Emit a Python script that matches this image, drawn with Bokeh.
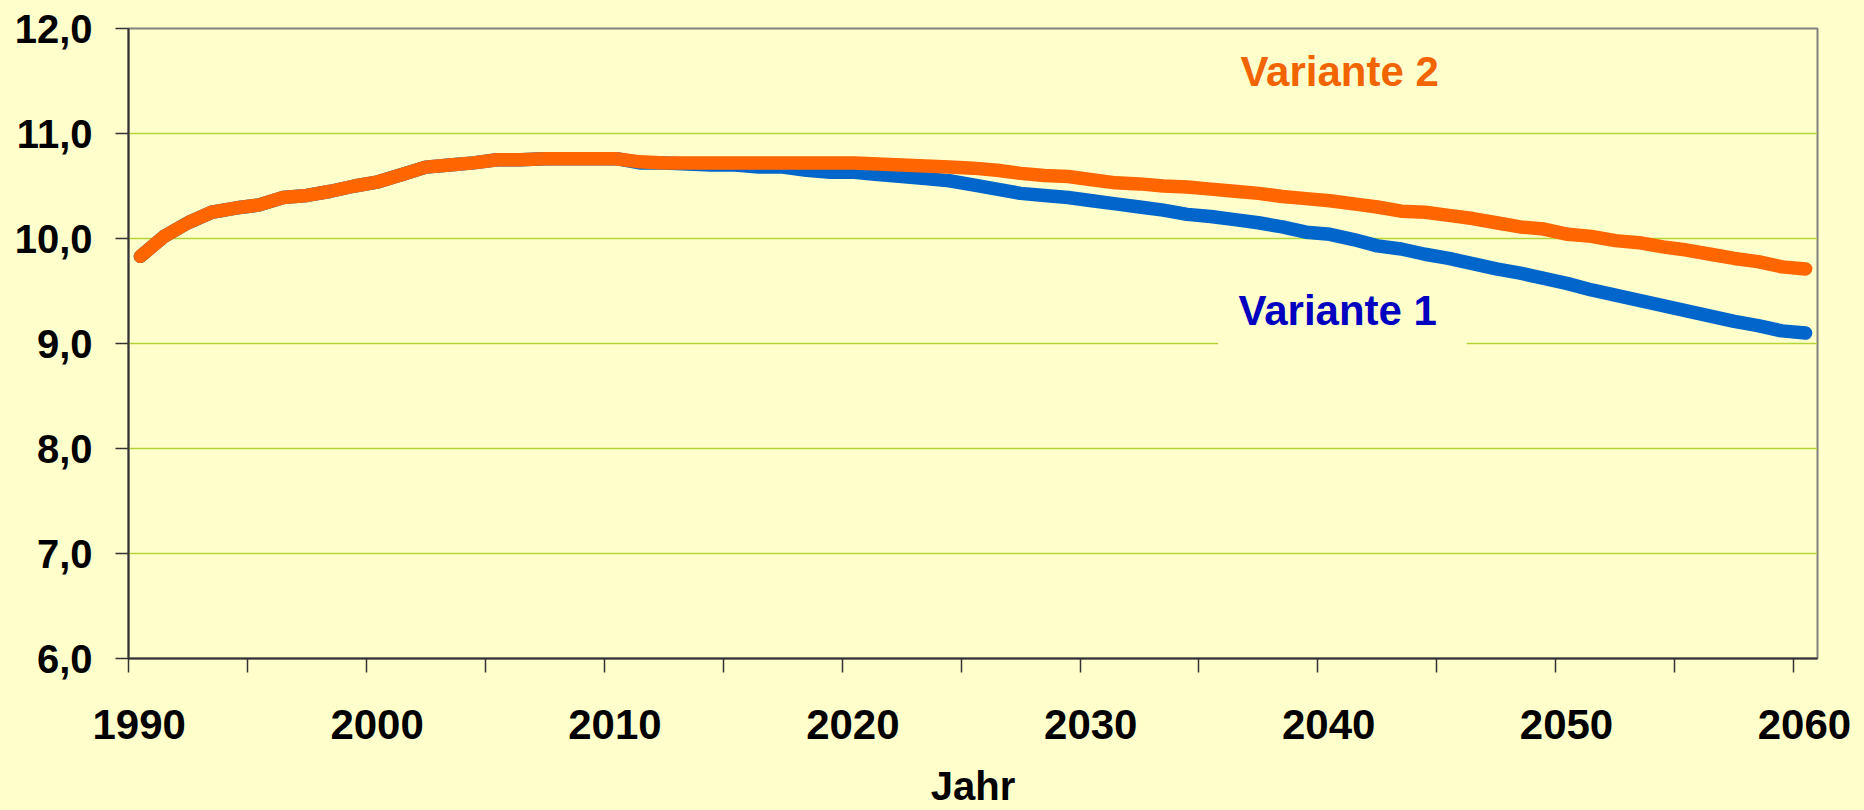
from bokeh.plotting import figure
from bokeh.models import (ColumnDataSource, Range1d, FixedTicker, Label, LinearAxis,
                          BoxAnnotation, GlobalInlineStyleSheet)
from bokeh.transform import dodge
from bokeh.embed import file_html
from bokeh.resources import INLINE

# ---- data -------------------------------------------------------------
years = list(range(1990, 2061))

variante_2 = [
    9.83, 10.02, 10.15, 10.25, 10.29, 10.32, 10.39, 10.41, 10.45, 10.50,   # 1990-1999
    10.54, 10.61, 10.68, 10.70, 10.72, 10.75, 10.75, 10.76, 10.76, 10.76,  # 2000-2009
    10.76, 10.73, 10.72, 10.72, 10.72, 10.72, 10.72, 10.72, 10.72, 10.72,  # 2010-2019
    10.72, 10.71, 10.70, 10.69, 10.68, 10.67, 10.65, 10.62, 10.60, 10.59,  # 2020-2029
    10.56, 10.53, 10.52, 10.50, 10.49, 10.47, 10.45, 10.43, 10.40, 10.38,  # 2030-2039
    10.36, 10.33, 10.30, 10.26, 10.25, 10.22, 10.19, 10.15, 10.11, 10.09,  # 2040-2049
    10.04, 10.02, 9.98, 9.96, 9.92, 9.89, 9.85, 9.81, 9.78, 9.73,          # 2050-2059
    9.71,                                                                  # 2060
]

variante_1 = [
    9.83, 10.02, 10.15, 10.25, 10.29, 10.32, 10.39, 10.41, 10.45, 10.50,   # 1990-1999
    10.54, 10.61, 10.68, 10.70, 10.72, 10.75, 10.75, 10.76, 10.76, 10.76,  # 2000-2009
    10.76, 10.72, 10.72, 10.71, 10.70, 10.70, 10.68, 10.68, 10.65, 10.63,  # 2010-2019
    10.63, 10.61, 10.59, 10.57, 10.55, 10.51, 10.47, 10.43, 10.41, 10.39,  # 2020-2029
    10.36, 10.33, 10.30, 10.27, 10.23, 10.21, 10.18, 10.15, 10.11, 10.06,  # 2030-2039
    10.04, 9.99, 9.93, 9.90, 9.85, 9.81, 9.76, 9.71, 9.67, 9.62,           # 2040-2049
    9.57, 9.51, 9.46, 9.41, 9.36, 9.31, 9.26, 9.21, 9.17, 9.12,            # 2050-2059
    9.10,                                                                  # 2060
]

x_ticks = [1990, 2000, 2010, 2020, 2030, 2040, 2050, 2060]
x_tick_labels = ["1990", "2000", "2010", "2020", "2030", "2040", "2050", "2060"]
x_minor_ticks = [1995, 2005, 2015, 2025, 2035, 2045, 2055]
y_ticks = [6, 7, 8, 9, 10, 11, 12]
y_tick_labels = ["6,0", "7,0", "8,0", "9,0", "10,0", "11,0", "12,0"]

series_names = ["Variante 1", "Variante 2"]
series_colors = ["#0066cc", "#ff6600"]
label_colors = ["#0000c0", "#f26400"]
x_title = "Jahr"

# ---- figure -----------------------------------------------------------
BG = "#ffffcc"
FONT = "Liberation Sans"
LABEL_SHIFT = 0.45  # tick labels of the original sit a little right of their ticks

src = ColumnDataSource(dict(year=years, v1=variante_1, v2=variante_2))

p = figure(
    width=1864, height=810,
    x_range=Range1d(1990, 2061), y_range=Range1d(6, 12),
    output_backend="svg", toolbar_location=None,
    min_border_left=128, min_border_right=47,
    min_border_top=28, min_border_bottom=151,
)
p.stylesheets = [GlobalInlineStyleSheet(css="html, body { background-color: #ffffcc; }")]

p.background_fill_color = BG
p.border_fill_color = BG
p.outline_line_color = "#808080"
p.outline_line_width = 2

# grid
p.xgrid.grid_line_color = None
p.ygrid.grid_line_color = "#b4d43a"
p.ygrid.grid_line_width = 1.5

# y axis
p.yaxis.ticker = FixedTicker(ticks=y_ticks)
p.yaxis.major_label_overrides = {t: l for t, l in zip(y_ticks, y_tick_labels)}
p.yaxis.major_label_text_font = FONT
p.yaxis.major_label_text_font_style = "bold"
p.yaxis.major_label_text_font_size = "40px"
p.yaxis.major_label_text_color = "black"
p.yaxis.major_label_standoff = 23
p.yaxis.major_tick_out = 13
p.yaxis.major_tick_in = 0
p.yaxis.minor_tick_line_color = None
p.yaxis.axis_line_color = "#333333"
p.yaxis.axis_line_width = 2
p.yaxis.major_tick_line_color = "#333333"
p.yaxis.major_tick_line_width = 1.5

# x axis: line + tick marks only (all ticks as minor ticks -> no label texts)
p.xaxis.ticker = FixedTicker(ticks=[], minor_ticks=sorted(x_ticks + x_minor_ticks))
p.xaxis.major_label_standoff = 0
p.xaxis.major_tick_out = 14
p.xaxis.major_tick_in = 0
p.xaxis.minor_tick_out = 14
p.xaxis.minor_tick_in = 0
p.xaxis.axis_line_color = "#333333"
p.xaxis.axis_line_width = 2
p.xaxis.minor_tick_line_color = "#333333"
p.xaxis.minor_tick_line_width = 1.5

# x tick labels + axis title (second axis, text only)
lab_ticks = [t + LABEL_SHIFT for t in x_ticks]
xlab_axis = LinearAxis(
    ticker=FixedTicker(ticks=lab_ticks, minor_ticks=[]),
    major_label_overrides={t: l for t, l in zip(lab_ticks, x_tick_labels)},
    axis_line_color=None, major_tick_line_color=None, minor_tick_line_color=None,
    major_tick_out=0, major_tick_in=0, minor_tick_out=0, minor_tick_in=0,
    major_label_text_font=FONT, major_label_text_font_style="bold",
    major_label_text_font_size="42px", major_label_text_color="black",
    major_label_standoff=37,
    axis_label=x_title, axis_label_text_font=FONT, axis_label_text_font_style="bold",
    axis_label_text_font_size="40px", axis_label_text_color="black",
    axis_label_standoff=22,
)
p.add_layout(xlab_axis, "below")

# mask the 9,0 grid line behind the "Variante 1" label
p.add_layout(BoxAnnotation(left=2035.8, right=2046.25, bottom=8.96, top=9.04,
                           fill_color=BG, fill_alpha=1.0, line_color=None,
                           level="underlay"))

# series labels
p.add_layout(Label(x=2036.66, y=9.31, text=series_names[0], text_color=label_colors[0],
                   text_font=FONT, text_font_style="bold", text_font_size="42px",
                   text_align="left", text_baseline="alphabetic"))
p.add_layout(Label(x=2036.74, y=11.59, text=series_names[1], text_color=label_colors[1],
                   text_font=FONT, text_font_style="bold", text_font_size="42px",
                   text_align="left", text_baseline="alphabetic"))

# lines (data at mid-year)
p.line(x=dodge("year", 0.5), y="v1", source=src, line_color=series_colors[0],
       line_width=13.5, line_cap="round", line_join="round")
p.line(x=dodge("year", 0.5), y="v2", source=src, line_color=series_colors[1],
       line_width=13.5, line_cap="round", line_join="round")

open("out.html", "w").write(file_html(p, INLINE))
